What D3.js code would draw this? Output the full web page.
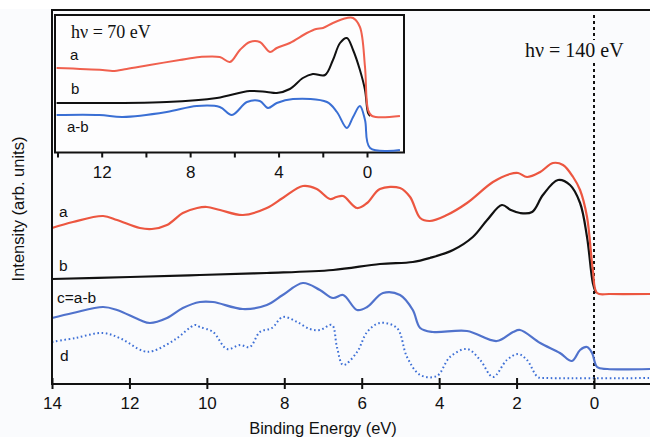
<!DOCTYPE html>
<html><head><meta charset="utf-8">
<script src="https://cdn.jsdelivr.net/npm/d3@7"></script>
<style>
html,body{margin:0;padding:0;background:#fafbfd;}
svg{display:block;}
text{font-family:"Liberation Sans",Arial,sans-serif;}
.serif{font-family:"Liberation Serif","Times New Roman",serif;}
</style></head>
<body>
<svg id="chart" width="650" height="437"></svg>
<script>
// ---------- DATA (binding energy in eV, intensity in arb. units) ----------
// Main panel (hν = 140 eV)
const mainTicks = [14, 12, 10, 8, 6, 4, 2, 0];
const seriesA = [[14.0,156],[13.46,162],[12.68,168],[12.32,164],[11.73,156],[11.42,155],[11.03,159],[10.62,171],[10.25,176],[10.0,177],[9.66,174],[9.07,169],[8.45,176],[8.04,186],[7.52,198],[7.16,195],[6.82,185],[6.65,187],[6.48,188],[6.12,176],[5.86,181],[5.53,195],[5.01,196],[4.75,187],[4.49,166],[4.24,163],[3.8,169],[3.28,181],[2.61,202],[2.17,210],[1.96,211],[1.73,207],[1.39,212],[1.06,221],[0.8,219],[0.54,207],[0.36,194],[0.18,167],[0.03,114],[-0.08,91],[-0.41,90],[-1.45,90]];
const seriesB = [[14.0,105],[11.98,107],[10.18,109],[8.45,111],[6.74,114],[5.53,120],[4.68,122],[4.24,126],[3.64,134],[3.13,147],[2.76,164],[2.38,179],[2.15,174],[1.91,171],[1.6,172],[1.32,189],[0.93,204],[0.62,199],[0.36,181],[0.18,147],[0.03,101],[-0.05,91]];
const seriesC = [[14.0,66],[13.46,71],[12.68,77],[12.32,74],[11.73,64],[11.47,61],[11.03,66],[10.62,76],[10.18,82],[9.84,82],[9.07,75],[8.45,79],[8.04,89],[7.52,101],[7.08,94],[6.74,86],[6.48,89],[6.12,74],[5.86,77],[5.45,91],[5.01,89],[4.68,74],[4.49,56],[4.16,52],[3.28,53],[2.51,43],[2.09,52],[1.91,54],[1.39,41],[0.88,31],[0.57,23],[0.36,34],[0.18,37],[0.05,31],[-0.08,17],[-0.34,15],[-1.45,15]];
const seriesD = [[14.0,42],[13.4,46],[12.68,51],[12.2,45],[11.65,33],[11.39,33],[10.8,45],[10.31,59],[10.18,57],[9.84,52],[9.48,35],[9.14,39],[8.89,37],[8.63,52],[8.32,56],[8.04,67],[7.67,62],[7.34,55],[7.08,54],[6.77,59],[6.64,37],[6.48,19],[6.12,32],[5.86,52],[5.53,61],[5.09,56],[4.83,27],[4.49,9],[4.06,8],[3.72,27],[3.28,35],[2.94,24],[2.61,7],[2.25,24],[1.96,30],[1.73,24],[1.45,7],[1.2,6],[-1.45,6]];
// Inset panel (hν = 70 eV)
const insetTicks = [14, 12, 10, 8, 6, 4, 2, 0];
const insetLabels = [12, 8, 4, 0];
const insetA = [[14.04,84],[11.96,82],[11.5,81],[10.87,83],[9.83,87],[8.47,92],[7.56,95],[6.66,95],[6.2,90],[5.75,102],[5.3,110],[4.85,110],[4.39,100],[4.08,104],[3.49,109],[2.72,119],[2.3,123],[1.99,124],[1.54,129],[0.91,134],[0.63,134],[0.32,125],[0.09,85],[-0.05,42],[-0.23,36],[-1.49,36]];
const insetB = [[14.04,49],[9.06,50],[6.79,54],[5.3,61],[4.53,60],[4.08,59],[3.49,63],[2.9,74],[2.45,78],[1.9,77],[1.54,92],[1.22,109],[0.91,114],[0.63,102],[0.32,82],[0.09,62],[-0.05,39],[-0.15,36]];
const insetAB = [[14.04,37],[12.1,37],[11.05,35],[9.06,40],[7.7,46],[6.66,45],[6.11,37],[5.43,50],[4.85,51],[4.48,44],[4.08,49],[3.35,53],[1.81,50],[1.36,40],[0.91,24],[0.63,35],[0.32,46],[0.09,32],[-0.14,4],[-1.49,2]];

// ---------- DRAW ----------
const svg = d3.select("#chart");
const x = d3.scaleLinear().domain([14, 0]).range([52, 594]);
const y = d3.scaleLinear().domain([0, 374]).range([384, 10]);
const line = d3.line().x(d => x(d[0])).y(d => y(d[1])).curve(d3.curveCatmullRom.alpha(0.5));

const red = "#ec5640", blk = "#111111", blue = "#5072cc", blueDot = "#3d6fd6";

svg.append("rect").attr("x",0).attr("y",0).attr("width",650).attr("height",9).attr("fill","#ffffff");

// vertical dotted line at 0 eV
svg.append("line").attr("x1", x(0)).attr("x2", x(0)).attr("y1", 15).attr("y2", 384)
  .attr("stroke", "#111").attr("stroke-width", 2).attr("stroke-dasharray", "3,3");

// main curves
svg.append("path").datum(seriesD).attr("d", line).attr("fill","none").attr("stroke",blueDot)
  .attr("stroke-width",2).attr("stroke-dasharray","1.6,2.6");
svg.append("path").datum(seriesC).attr("d", line).attr("fill","none").attr("stroke",blue).attr("stroke-width",2.2);
svg.append("path").datum(seriesB).attr("d", line).attr("fill","none").attr("stroke",blk).attr("stroke-width",2.2);
svg.append("path").datum(seriesA).attr("d", line).attr("fill","none").attr("stroke",red).attr("stroke-width",2.2);

// frame: top & left
svg.append("line").attr("x1",52).attr("x2",650).attr("y1",10).attr("y2",10).attr("stroke","#111").attr("stroke-width",2);
svg.append("line").attr("x1",52).attr("x2",52).attr("y1",9).attr("y2",385).attr("stroke","#111").attr("stroke-width",2);

// bottom axis
const xAxis = d3.axisBottom(x).tickValues(mainTicks).tickFormat(d3.format("d")).tickSizeOuter(0).tickSizeInner(5).tickPadding(8);
const gx = svg.append("g").attr("transform","translate(0,384)").call(xAxis);
gx.select(".domain").remove();
gx.append("line").attr("x1",52).attr("x2",650).attr("y1",0).attr("y2",0).attr("stroke","#111").attr("stroke-width",2);
gx.selectAll(".tick line").attr("y1",-6).attr("y2",5).attr("stroke","#111").attr("stroke-width",2);
gx.selectAll(".tick text").attr("font-size",17).attr("fill","#111").style("font-family","Liberation Sans, Arial, sans-serif");

svg.append("text").attr("x",323).attr("y",434).attr("text-anchor","middle").attr("font-size",16.5).attr("fill","#111").text("Binding Energy (eV)");
svg.append("text").attr("transform","translate(24,209) rotate(-90)").attr("text-anchor","middle").attr("font-size",16.5).attr("fill","#111").text("Intensity (arb. units)");

// series labels
const lbl = [["a",59,217],["b",59,271],["c=a-b",57,303],["d",60,361]];
lbl.forEach(l => svg.append("text").attr("x",l[1]).attr("y",l[2]).attr("font-size",15.5).attr("fill","#111").text(l[0]));

// hν = 140 eV label with background
const t140 = svg.append("g");
t140.append("rect").attr("x",524).attr("y",40).attr("width",104).attr("height",22).attr("fill","#fafbfd");
t140.append("text").attr("class","serif").attr("x",525).attr("y",57).attr("font-size",20).attr("fill","#111").text("hν = 140 eV");

// ---------- INSET ----------
const xi = d3.scaleLinear().domain([12, 0]).range([101.7, 367]);
const yi = d3.scaleLinear().domain([0, 137]).range([152, 15]);
const linei = d3.line().x(d => xi(d[0])).y(d => yi(d[1])).curve(d3.curveCatmullRom.alpha(0.5));
const ins = svg.append("g");
ins.append("rect").attr("x",55).attr("y",15).attr("width",349).attr("height",137.5).attr("fill","#fdfdfe").attr("stroke","#111").attr("stroke-width",2);
ins.append("path").datum(insetAB).attr("d",linei).attr("fill","none").attr("stroke","#3a6fd4").attr("stroke-width",2);
ins.append("path").datum(insetB).attr("d",linei).attr("fill","none").attr("stroke",blk).attr("stroke-width",2);
ins.append("path").datum(insetA).attr("d",linei).attr("fill","none").attr("stroke","#f0604e").attr("stroke-width",2);

const xAxisI = d3.axisBottom(xi).tickValues(insetTicks).tickFormat(d => insetLabels.includes(d) ? d : "").tickSizeOuter(0).tickSizeInner(5).tickPadding(8);
const gxi = ins.append("g").attr("transform","translate(0,152.5)").call(xAxisI);
gxi.select(".domain").remove();
gxi.selectAll(".tick line").attr("stroke","#111").attr("stroke-width",2);
gxi.selectAll(".tick text").attr("font-size",17).attr("fill","#111").style("font-family","Liberation Sans, Arial, sans-serif");

ins.append("text").attr("class","serif").attr("x",71).attr("y",38).attr("font-size",18).attr("fill","#111").text("hν = 70 eV");
[["a",70,60],["b",71,94],["a-b",67,132]].forEach(l => ins.append("text").attr("x",l[1]).attr("y",l[2]).attr("font-size",15).attr("fill","#111").text(l[0]));
</script>
</body></html>
